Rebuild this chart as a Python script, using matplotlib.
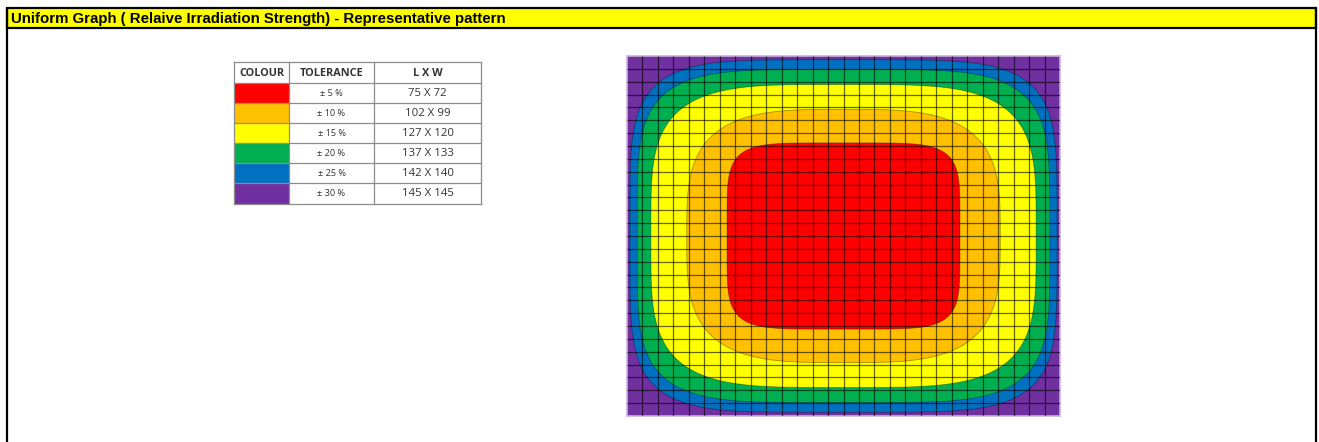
import numpy as np
import matplotlib
matplotlib.use("Agg")
import matplotlib.pyplot as plt
from matplotlib.patches import Rectangle, Polygon

# datos de la tabla
colores = ["#FF0000", "#FFC000", "#FFFF00", "#00B050", "#0070C0", "#7030A0"]
tolerancias = ["± 5 %", "± 10 %", "± 15 %", "± 20 %", "± 25 %", "± 30 %"]
largo = [75, 102, 127, 137, 142, 145]
ancho = [72, 99, 120, 133, 140, 145]
encabezados = ["COLOUR", "TOLERANCE", "L X W"]
titulo = "Uniform Graph ( Relaive Irradiation Strength) - Representative pattern"

# redondeo de cada zona (superelipse) y margen extra del dibujo
exponentes = [5.5, 3.4, 4.0, 4.6, 4.9, None]
margenes = [1.5, 1.5, 1.0, 0.6, 1.0, 0]

W, H = 1319, 442
fig = plt.figure(figsize=(W / 100, H / 100), dpi=100)
lienzo = fig.add_axes([0, 0, 1, 1])
lienzo.set_xlim(0, W)
lienzo.set_ylim(H, 0)
lienzo.axis("off")

# marco y barra de titulo
lienzo.add_patch(Rectangle((7, 8), 1309, 20, facecolor="#FFFF00", edgecolor="black", lw=1.6, zorder=2))
lienzo.plot([7, 7], [8, H + 5], color="black", lw=1.6, solid_capstyle="butt")
lienzo.plot([1316, 1316], [8, H + 5], color="black", lw=1.6, solid_capstyle="butt")
lienzo.text(11, 18.5, titulo, fontsize=10.85, fontweight="bold", family="Liberation Sans",
            va="center", ha="left", zorder=3)

# -----------------------------------
# tabla
# -----------------------------------
cols_x = [234, 289, 374, 481]
filas_y = [62, 83, 103, 123, 143, 163, 183, 204]
gris = "#8C8C8C"
texto = "#333333"

for i, nombre in enumerate(encabezados):
    cx = (cols_x[i] + cols_x[i + 1]) / 2
    lienzo.text(cx, (filas_y[0] + filas_y[1]) / 2 + 0.5, nombre, fontsize=7.8, fontweight="bold",
                family="Open Sans", color=texto, ha="center", va="center")

for j in range(len(colores)):
    y0, y1 = filas_y[j + 1], filas_y[j + 2]
    lienzo.add_patch(Rectangle((cols_x[0], y0), cols_x[1] - cols_x[0], y1 - y0,
                               facecolor=colores[j], edgecolor="none"))
    cy = (y0 + y1) / 2 + 0.5
    lienzo.text((cols_x[1] + cols_x[2]) / 2, cy, tolerancias[j], fontsize=6.6,
                family="Open Sans", color=texto, ha="center", va="center")
    lienzo.text((cols_x[2] + cols_x[3]) / 2, cy, f"{largo[j]} X {ancho[j]}", fontsize=8.2,
                family="Open Sans", color=texto, ha="center", va="center")

for x in cols_x:
    lienzo.plot([x, x], [filas_y[0], filas_y[-1]], color=gris, lw=0.9)
for y in filas_y:
    lienzo.plot([cols_x[0], cols_x[-1]], [y, y], color=gris, lw=0.9)

# -----------------------------------
# patron de irradiacion
# -----------------------------------
ax = fig.add_axes([627 / W, 1 - 416 / H, 433 / W, 360 / H])
lado = max(largo[-1], ancho[-1])
ax.set_xlim(0, lado)
ax.set_ylim(0, lado)
ax.set_xticks([])
ax.set_yticks([])
for s in ax.spines.values():
    s.set_color("#C9B3DA")
    s.set_linewidth(1.2)

centro = lado / 2
tope = lado / 2 - 1.0
t = np.linspace(0, 2 * np.pi, 720)
for j in range(len(colores) - 1, -1, -1):
    if exponentes[j] is None:
        ax.add_patch(Rectangle((0, 0), lado, lado, facecolor=colores[j], edgecolor="none", zorder=1))
        continue
    n = exponentes[j]
    a = min(largo[j] / 2 + margenes[j], tope)
    b = min(ancho[j] / 2 + margenes[j], tope)
    c, s = np.cos(t), np.sin(t)
    xs = centro + a * np.sign(c) * np.abs(c) ** (2 / n)
    ys = centro + b * np.sign(s) * np.abs(s) ** (2 / n)
    ax.add_patch(Polygon(np.column_stack([xs, ys]), closed=True, facecolor=colores[j],
                         edgecolor=(0, 0, 0, 0.35), lw=0.6, zorder=2 + (5 - j)))

celdas = 28
pasos = np.linspace(0, lado, celdas + 1)
ax.vlines(pasos[1:-1], 0, lado, color="black", lw=0.9, alpha=0.6, zorder=10)
ax.hlines(pasos[1:-1], 0, lado, color="black", lw=0.9, alpha=0.6, zorder=10)

fig.savefig("out.png", dpi=100)
